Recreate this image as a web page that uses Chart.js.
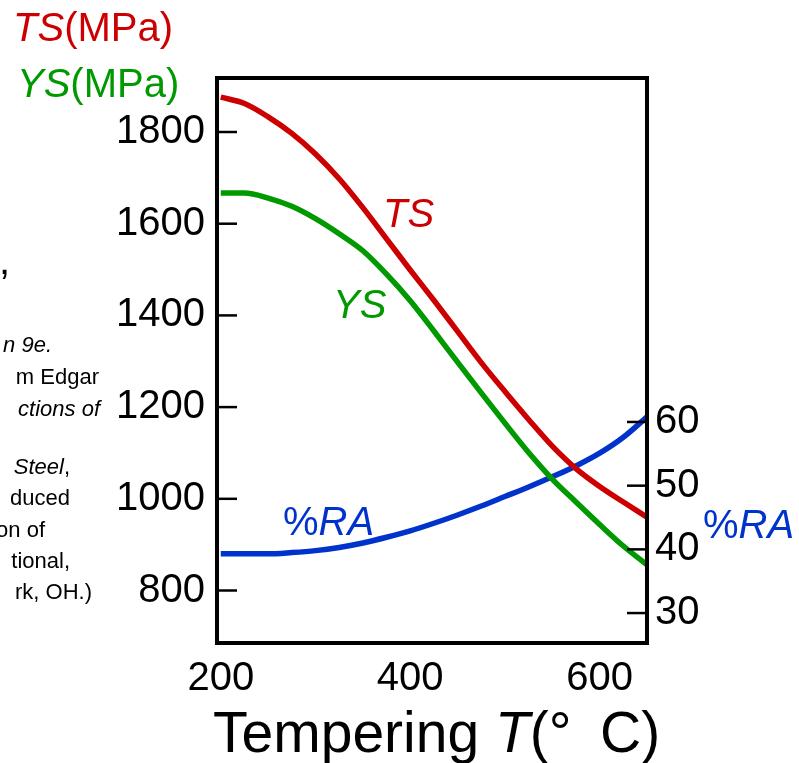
<!DOCTYPE html>
<html><head><meta charset="utf-8">
<script src="https://cdn.jsdelivr.net/npm/chart.js@4.4.1/dist/chart.umd.min.js"></script>
<style>
html,body{margin:0;padding:0;background:#fff;}
#wrap{position:relative;width:799px;height:763px;overflow:hidden;font-family:"Liberation Sans",Arial,sans-serif;background:#fff;}
canvas{position:absolute;left:0;top:0;}
.t{position:absolute;white-space:nowrap;line-height:1;}
.f{position:absolute;white-space:nowrap;line-height:1;font-size:22px;text-align:right;color:#000;}
.red{color:#cc0000}.green{color:#009900}.blue{color:#0033cc}
</style></head><body>
<div id="wrap">
<canvas id="c" width="799" height="763"></canvas>
<div class="t red" style="left:13px;top:7px;font-size:40px;"><i>TS</i>(MPa)</div>
<div class="t green" style="left:17px;top:63px;font-size:40px;"><i>YS</i>(MPa)</div>
<div class="t red" style="left:383px;top:193px;font-size:40px;"><i>TS</i></div>
<div class="t green" style="left:333px;top:284px;font-size:40px;"><i>YS</i></div>
<div class="t blue" style="left:283px;top:501px;font-size:40px;">%<i>RA</i></div>
<div class="t blue" style="left:703px;top:504px;font-size:40px;">%<i>RA</i></div>
<div class="t" style="left:213px;top:704px;font-size:57px;color:#000;">Tempering <i>T</i>(°&ensp;C)</div>
<div class="f" style="right:789px;top:240px;font-size:40px;">,</div>
<div class="f" style="right:747px;top:334px;"><i>n 9e.</i></div>
<div class="f" style="right:700px;top:366px;">m Edgar</div>
<div class="f" style="right:699px;top:398px;"><i>ctions of</i></div>
<div class="f" style="right:729px;top:456px;"><i>Steel</i>,</div>
<div class="f" style="right:729px;top:487px;">duced</div>
<div class="f" style="right:754px;top:519px;">on of</div>
<div class="f" style="right:729px;top:550px;">tional,</div>
<div class="f" style="right:707px;top:581px;">rk, OH.)</div>
</div>
<script>
// Tempering temperature (°C)
const temps = [200,225,250,275,300,325,350,375,400,425,450,475,500,525,550,575,600,625,650];
// Tensile strength (MPa)
const tsMPa = [1876,1862,1833,1797,1752,1698,1635,1567,1499,1433,1365,1297,1234,1173,1115,1066,1027,993,960];
// Yield strength (MPa)
const ysMPa = [1667,1667,1656,1638,1611,1578,1541,1490,1432,1366,1298,1231,1165,1101,1043,993,944,897,856];
// Reduction in area (%)
const raPct = [39.3,39.3,39.3,39.5,39.8,40.3,41.0,41.9,42.9,44.1,45.4,46.8,48.3,49.8,51.4,53.1,55.1,57.6,60.8];
// Tick labels
const tempTicks = [200,400,600];
const strengthTicks = [800,1000,1200,1400,1600,1800];
const raTicks = [30,40,50,60];

const FONT = '"Liberation Sans", Arial, sans-serif';
const pts = arr => temps.map((t,i)=>({x:t,y:arr[i]}));
const plain = v => String(v);

const frame = {
  id:'frame',
  afterDraw(ch){
    const {ctx, chartArea:a, scales} = ch;
    ctx.save();
    ctx.strokeStyle = '#000';
    ctx.lineWidth = 2.5;
    scales.y.ticks.forEach(t=>{
      const p = scales.y.getPixelForValue(t.value);
      ctx.beginPath(); ctx.moveTo(a.left, p); ctx.lineTo(a.left+20, p); ctx.stroke();
    });
    scales.y2.ticks.forEach(t=>{
      const p = scales.y2.getPixelForValue(t.value);
      ctx.beginPath(); ctx.moveTo(a.right-20, p); ctx.lineTo(a.right, p); ctx.stroke();
    });
    ctx.lineWidth = 4;
    ctx.strokeRect(a.left, a.top, a.right-a.left, a.bottom-a.top);
    ctx.restore();
  }
};

const tickFont = {family: FONT, size: 40};
new Chart(document.getElementById('c'), {
  type: 'line',
  data: {
    datasets: [
      {label:'TS', data: pts(tsMPa), yAxisID:'y', borderColor:'#cc0000', borderWidth:5.5, pointRadius:0, cubicInterpolationMode:'monotone', fill:false},
      {label:'YS', data: pts(ysMPa), yAxisID:'y', borderColor:'#009900', borderWidth:5.5, pointRadius:0, cubicInterpolationMode:'monotone', fill:false},
      {label:'%RA', data: pts(raPct), yAxisID:'y2', borderColor:'#0033cc', borderWidth:5.5, pointRadius:0, cubicInterpolationMode:'monotone', fill:false}
    ]
  },
  options: {
    responsive:false, devicePixelRatio:1, animation:false,
    layout:{padding:{top:78,left:0,right:0,bottom:0}},
    plugins:{legend:{display:false}, tooltip:{enabled:false}},
    scales:{
      x:{type:'linear', position:'bottom', min:196, max:650,
         afterBuildTicks:s=>{s.ticks = tempTicks.map(v=>({value:v}));},
         afterFit:s=>{s.height = 120;},
         grid:{display:false, drawTicks:false}, border:{display:false},
         ticks:{font:tickFont, color:'#000', padding:12, maxRotation:0, autoSkip:false, callback:plain}},
      y:{type:'linear', position:'left', min:685.5, max:1917.8,
         afterBuildTicks:s=>{s.ticks = strengthTicks.map(v=>({value:v}));},
         afterFit:s=>{s.width = 217;},
         grid:{display:false, drawTicks:false}, border:{display:false},
         ticks:{font:tickFont, color:'#000', padding:12, autoSkip:false, callback:plain}},
      y2:{type:'linear', position:'right', min:25.3, max:114.0,
         afterBuildTicks:s=>{s.ticks = raTicks.map(v=>({value:v}));},
         afterFit:s=>{s.width = 152;},
         grid:{display:false, drawTicks:false}, border:{display:false},
         ticks:{font:tickFont, color:'#000', padding:8, autoSkip:false, callback:plain}}
    }
  },
  plugins:[frame]
});
</script>
</body></html>
